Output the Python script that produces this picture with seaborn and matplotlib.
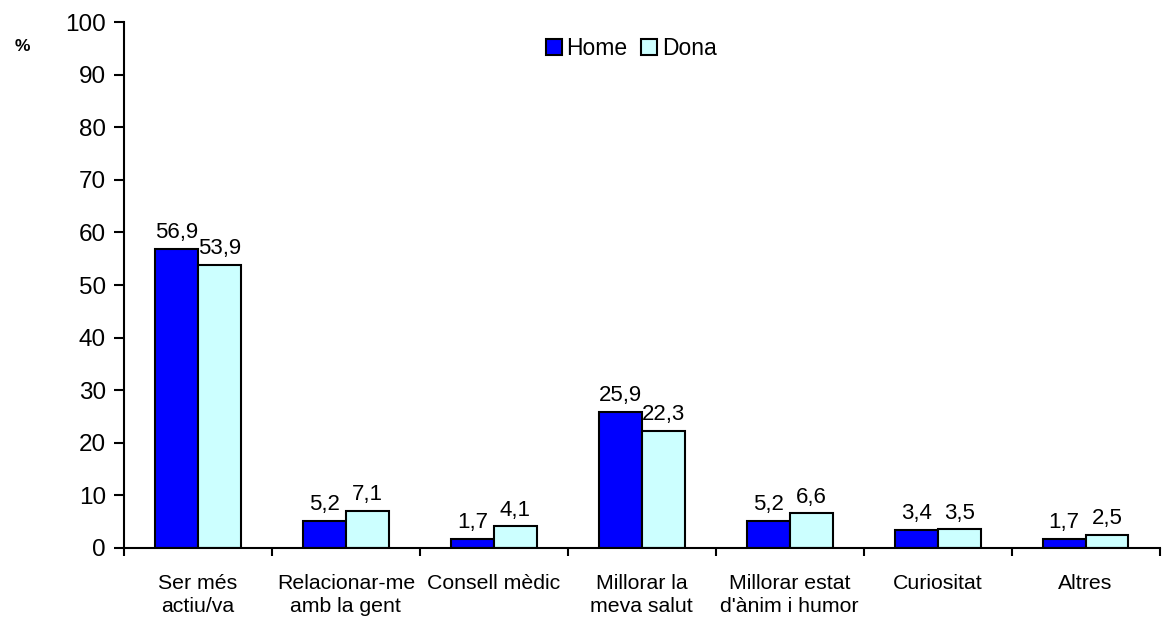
import matplotlib
matplotlib.use("Agg")
import matplotlib.pyplot as plt
import seaborn as sns
import pandas as pd
import numpy as np

categories = ["Ser més\nactiu/va", "Relacionar-me\namb la gent", "Consell mèdic",
              "Millorar la\nmeva salut", "Millorar estat\nd'ànim i humor",
              "Curiositat", "Altres"]
home = [56.9, 5.2, 1.7, 25.9, 5.2, 3.4, 1.7]
dona = [53.9, 7.1, 4.1, 22.3, 6.6, 3.5, 2.5]
series = ["Home", "Dona"]
colors = ["#0000FF", "#CCFFFF"]

df = pd.DataFrame({
    "categoria": categories * 2,
    "sexe": [series[0]] * len(categories) + [series[1]] * len(categories),
    "valor": home + dona,
})

sns.set_style("white")
plt.rcParams["font.family"] = ["Liberation Sans", "DejaVu Sans"]
plt.rcParams["text.color"] = "black"
plt.rcParams["xtick.color"] = "black"
plt.rcParams["ytick.color"] = "black"
plt.rcParams["xtick.labelcolor"] = "black"
plt.rcParams["ytick.labelcolor"] = "black"

fig = plt.figure(figsize=(11.63, 6.17), dpi=100)
ax = fig.add_axes([0.1066, 0.112, 0.8904, 0.852])

sns.barplot(data=df, x="categoria", y="valor", hue="sexe", order=categories,
            hue_order=series, palette=colors, width=0.58, edgecolor="black",
            linewidth=1.5, saturation=1, ax=ax)

for container in ax.containers:
    labels = [f"{v:.1f}".replace(".", ",") for v in container.datavalues]
    ax.bar_label(container, labels=labels, padding=4, fontsize=16, color="black")

ax.set_xlim(-0.5, len(categories) - 0.5)
ax.set_ylim(0, 100)
ax.set_yticks(np.arange(0, 101, 10))
ax.tick_params(axis="y", labelsize=17.5, length=7, width=1.5, direction="out",
               left=True, pad=6)
ax.set_xticks(range(len(categories)))
ax.set_xticklabels(categories, fontsize=15.3, linespacing=1.25)
ax.tick_params(axis="x", which="major", length=0, pad=19)
ax.set_xticks(np.arange(-0.5, len(categories), 1.0), minor=True)
ax.tick_params(axis="x", which="minor", length=6, width=1.5, direction="out",
               bottom=True)

for side in ["top", "right"]:
    ax.spines[side].set_visible(False)
for side in ["left", "bottom"]:
    ax.spines[side].set_linewidth(1.5)
    ax.spines[side].set_color("black")

ax.set_xlabel("")
ax.set_ylabel("")
fig.text(0.019, 0.925, "%", fontsize=12.5, fontweight="bold", ha="center", va="center")

ax.legend(loc="upper center", bbox_to_anchor=(0.49, 0.99), ncol=2, frameon=False,
          fontsize=16.5, handlelength=0.7, handleheight=0.7, handletextpad=0.2,
          columnspacing=0.6, borderaxespad=0)

fig.savefig("out.png", dpi=100)
